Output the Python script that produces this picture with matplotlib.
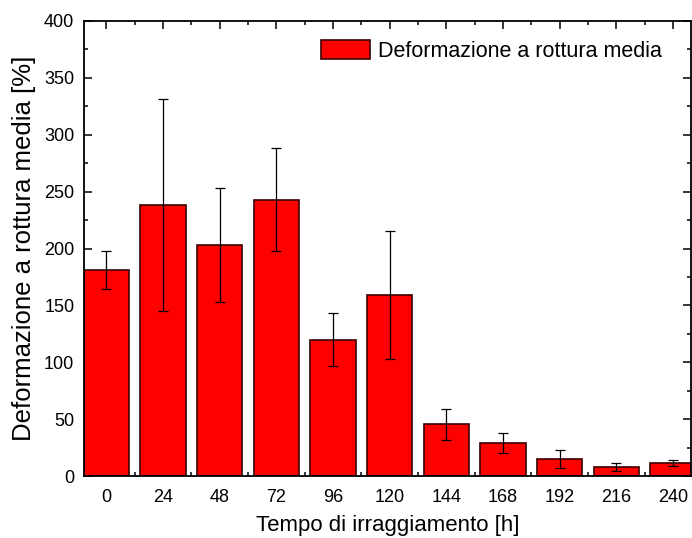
import matplotlib
matplotlib.use("Agg")
import matplotlib.pyplot as plt
from matplotlib.ticker import MultipleLocator

plt.rcParams['font.family'] = ['Liberation Sans', 'DejaVu Sans']

# dati: tempo di irraggiamento [h], deformazione media [%], deviazione
tempo = [0, 24, 48, 72, 96, 120, 144, 168, 192, 216, 240]
deformazione = [181, 238, 203, 243, 120, 159, 45.5, 29, 15, 8, 11.5]
errore = [17, 93, 50, 45.5, 23, 56, 13.5, 8.5, 8, 3.5, 2.7]

fig = plt.figure(figsize=(6.92, 5.38), dpi=100)
ax = fig.add_axes([0.1214, 0.1152, 0.8772, 0.8458])

ax.bar(tempo, deformazione, width=19.2, color='#ff0000', edgecolor='#3a0000',
       linewidth=1.2, yerr=errore, capsize=3.3,
       error_kw=dict(ecolor='black', elinewidth=0.9, capthick=0.9),
       label='Deformazione a rottura media', zorder=2)

ax.set_xlim(-9.4, 247.6)
ax.set_ylim(0, 400)
ax.set_xticks(tempo)
ax.xaxis.set_minor_locator(MultipleLocator(12))
ax.yaxis.set_major_locator(MultipleLocator(50))
ax.yaxis.set_minor_locator(MultipleLocator(25))

ax.tick_params(which='both', direction='in', top=True, right=True,
               labelsize=13, width=1.1)
ax.tick_params(axis='y', pad=7)
ax.tick_params(axis='x', pad=9)
ax.tick_params(which='major', length=6)
ax.tick_params(which='minor', length=3)
for s in ax.spines.values():
    s.set_linewidth(1.3)

ax.set_xlabel('Tempo di irraggiamento [h]', fontsize=16, labelpad=7)
ax.set_ylabel('Deformazione a rottura media [%]', fontsize=18.5, labelpad=6)

leg = ax.legend(loc='upper right', bbox_to_anchor=(0.952, 0.958),
                frameon=False, fontsize=15.5, borderpad=0, borderaxespad=0,
                handlelength=2.3, handleheight=1.0, handletextpad=0.35)

fig.savefig('out.png', dpi=100)
